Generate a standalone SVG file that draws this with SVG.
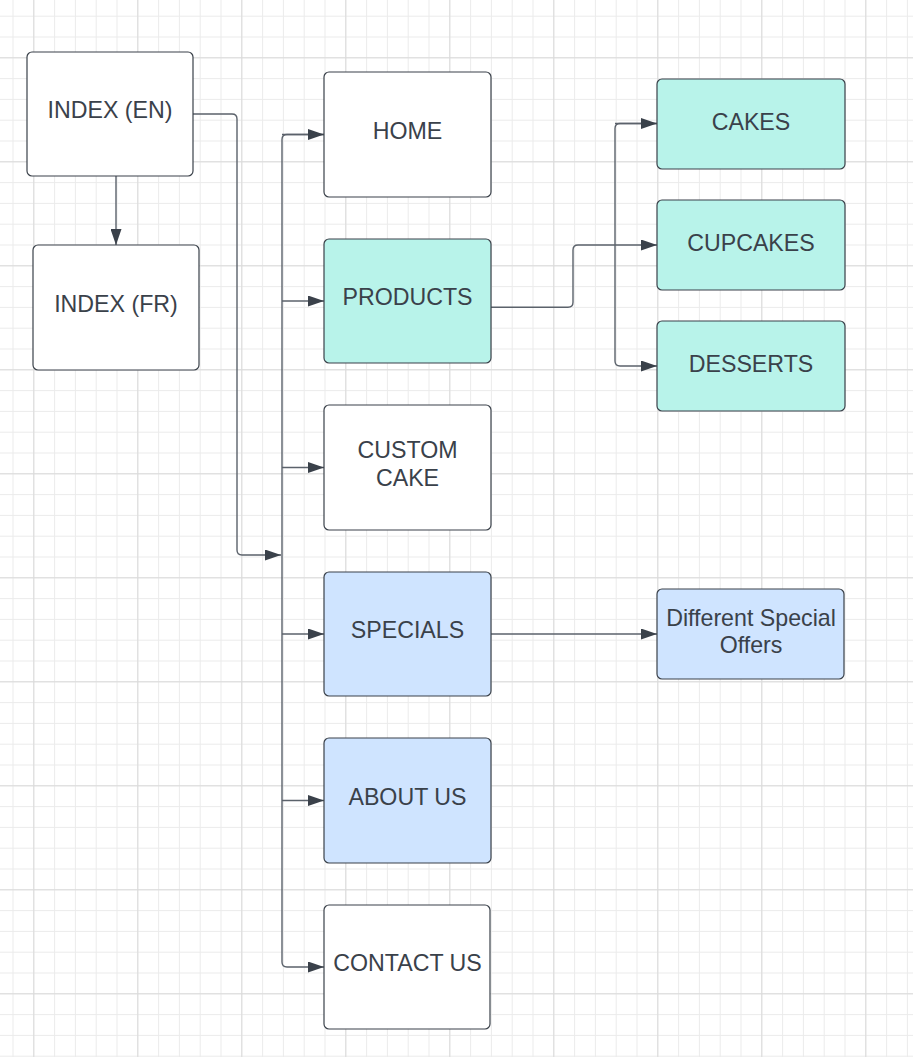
<svg xmlns="http://www.w3.org/2000/svg" width="913" height="1057" viewBox="0 0 913 1057">
<defs>
<pattern id="minor" x="12.5" y="15.7" width="20.8" height="20.8" patternUnits="userSpaceOnUse">
<path d="M0 0.5H20.8M0.5 0V20.8" fill="none" stroke="#ebebeb" stroke-width="1"/>
</pattern>
<pattern id="major" x="33.3" y="57.3" width="104" height="104" patternUnits="userSpaceOnUse">
<path d="M0 0.5H104M0.5 0V104" fill="none" stroke="#dadada" stroke-width="1"/>
</pattern>
<marker id="arr" viewBox="0 0 16 11" refX="16" refY="5.5" markerWidth="16" markerHeight="11" markerUnits="userSpaceOnUse" orient="auto">
<path d="M0 0L16 5.5L0 11Z" fill="#3a414a"/>
</marker>
<style>
.box{stroke:#3a414a;stroke-width:1.2}
.w{fill:#ffffff}
.t{fill:#b8f3ea}
.b{fill:#cfe4ff}
text{font-family:"Liberation Sans",Arial,sans-serif;font-size:23.2px;fill:#3a414a;text-anchor:middle}
.c{fill:none;stroke:#5b626b;stroke-width:1.4}
</style>
</defs>
<rect width="913" height="1057" fill="#ffffff"/>
<rect width="913" height="1057" fill="url(#minor)"/>
<rect width="913" height="1057" fill="url(#major)"/>

<g id="connectors">
<path class="c" d="M193 114H232Q237 114 237 119V550Q237 555 242 555H281" marker-end="url(#arr)"/>
<path class="c" d="M116 176V245" marker-end="url(#arr)"/>
<path class="c" d="M324 134.5H287Q282 134.5 282 139.5V962Q282 967 287 967H324" marker-end="url(#arr)"/>
<path class="c" d="M282 134.5H324" marker-end="url(#arr)"/>
<path class="c" d="M282 301H324" marker-end="url(#arr)"/>
<path class="c" d="M282 467.5H324" marker-end="url(#arr)"/>
<path class="c" d="M282 634H324" marker-end="url(#arr)"/>
<path class="c" d="M282 800.5H324" marker-end="url(#arr)"/>
<path class="c" d="M491 307.3H568Q573 307.3 573 302.3V250Q573 245 578 245H657" marker-end="url(#arr)"/>
<path class="c" d="M657 123.5H620Q615 123.5 615 128.5V361Q615 366 620 366H657" marker-end="url(#arr)"/>
<path class="c" d="M615 123.5H657" marker-end="url(#arr)"/>
<path class="c" d="M491 634H657" marker-end="url(#arr)"/>
</g>

<g id="index-en"><rect class="box w" x="27" y="52" width="166" height="124" rx="5"/><text x="110" y="118">INDEX (EN)</text></g>
<g id="index-fr"><rect class="box w" x="33" y="245" width="166" height="125" rx="5"/><text x="116" y="312">INDEX (FR)</text></g>
<g id="home"><rect class="box w" x="324" y="72" width="167" height="125" rx="5"/><text x="407.5" y="139">HOME</text></g>
<g id="products"><rect class="box t" x="324" y="239" width="167" height="124" rx="5"/><text x="407.5" y="305">PRODUCTS</text></g>
<g id="custom-cake"><rect class="box w" x="324" y="405" width="167" height="125" rx="5"/><text x="407.5" y="458">CUSTOM</text><text x="407.5" y="486">CAKE</text></g>
<g id="specials"><rect class="box b" x="324" y="572" width="167" height="124" rx="5"/><text x="407.5" y="638">SPECIALS</text></g>
<g id="about-us"><rect class="box b" x="324" y="738" width="167" height="125" rx="5"/><text x="407.5" y="805">ABOUT US</text></g>
<g id="contact-us"><rect class="box w" x="324" y="905" width="166" height="124" rx="5"/><text x="407.5" y="971">CONTACT US</text></g>
<g id="cakes"><rect class="box t" x="657" y="79" width="188" height="90" rx="5"/><text x="751" y="130">CAKES</text></g>
<g id="cupcakes"><rect class="box t" x="657" y="200" width="188" height="90" rx="5"/><text x="751" y="251">CUPCAKES</text></g>
<g id="desserts"><rect class="box t" x="657" y="321" width="188" height="90" rx="5"/><text x="751" y="372">DESSERTS</text></g>
<g id="special-offers"><rect class="box b" x="657" y="589" width="187" height="90" rx="5"/><text x="751" y="626">Different Special</text><text x="751" y="653">Offers</text></g>
</svg>
